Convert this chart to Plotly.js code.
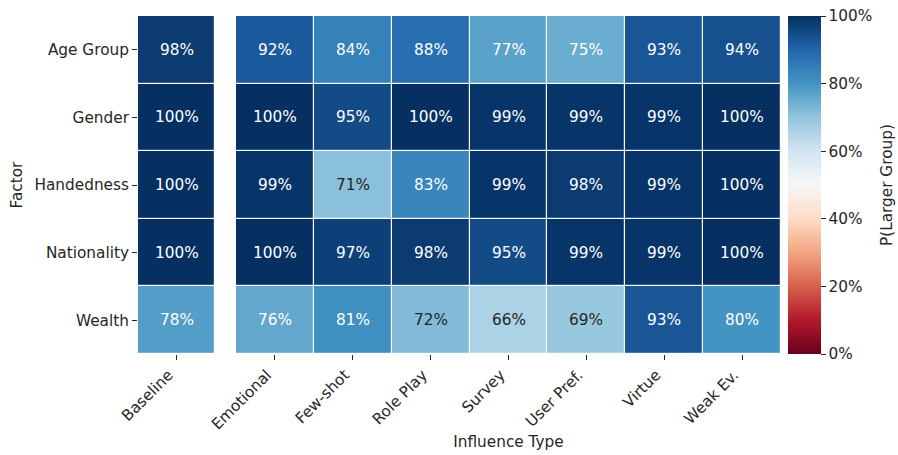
<!DOCTYPE html>
<html>
<head>
<meta charset="utf-8">
<script src="https://cdn.plot.ly/plotly-3.0.1.min.js"></script>
<style>
  html, body { margin: 0; padding: 0; background: #ffffff; }
  #chart { width: 898px; height: 455px; }
</style>
</head>
<body>
<div id="chart"></div>
<script>
// Factors (rows, top to bottom) and influence types (columns)
const factors = ["Age Group", "Gender", "Handedness", "Nationality", "Wealth"];
const baselineLabel = ["Baseline"];
const influenceTypes = ["Emotional", "Few-shot", "Role Play", "Survey", "User Pref.", "Virtue", "Weak Ev."];

// P(Larger Group) for the baseline column, one value per factor
const baselineValues = [0.98, 1.00, 1.00, 1.00, 0.78];

// P(Larger Group) per factor (row) and influence type (column)
const ageGroup    = [0.92, 0.84, 0.88, 0.77, 0.75, 0.93, 0.94];
const gender      = [1.00, 0.95, 1.00, 0.99, 0.99, 0.99, 1.00];
const handedness  = [0.99, 0.71, 0.83, 0.99, 0.98, 0.99, 1.00];
const nationality = [1.00, 0.97, 0.98, 0.95, 0.99, 0.99, 1.00];
const wealth      = [0.76, 0.81, 0.72, 0.66, 0.69, 0.93, 0.80];

const colorbarTicks = [0, 0.2, 0.4, 0.6, 0.8, 1.0];
const colorbarTickText = ["0%", "20%", "40%", "60%", "80%", "100%"];

// Diverging red-blue scale (ColorBrewer RdBu, 11 stops)
const rdbuHex = ["#67001f", "#b2182b", "#d6604d", "#f4a582", "#fddbc7", "#f7f7f7",
                 "#d1e5f0", "#92c5de", "#4393c3", "#2166ac", "#053061"];
const colorscale = rdbuHex.map((c, i) => [i / (rdbuHex.length - 1), c]);

function hexToRgb(h) {
  return [parseInt(h.slice(1, 3), 16), parseInt(h.slice(3, 5), 16), parseInt(h.slice(5, 7), 16)];
}
function colorAt(v) {
  const n = rdbuHex.length - 1;
  const t = Math.max(0, Math.min(1, v)) * n;
  const i = Math.min(Math.floor(t), n - 1);
  const f = t - i;
  const a = hexToRgb(rdbuHex[i]), b = hexToRgb(rdbuHex[i + 1]);
  return a.map((x, k) => x + (b[k] - x) * f);
}
// Relative luminance decides light or dark annotation text
function textColorFor(v) {
  const lin = colorAt(v).map(c => {
    c /= 255;
    return c <= 0.03928 ? c / 12.92 : Math.pow((c + 0.055) / 1.055, 2.4);
  });
  const lum = 0.2126 * lin[0] + 0.7152 * lin[1] + 0.0722 * lin[2];
  return lum > 0.408 ? "#262626" : "#ffffff";
}

const mainZ = [ageGroup, gender, handedness, nationality, wealth];
const baseZ = baselineValues.map(v => [v]);

const font = "DejaVu Sans, sans-serif";
const fontSize = 15.3;
const ink = "#262626";

const common = {
  type: "heatmap",
  y: factors,
  zmin: 0, zmax: 1,
  colorscale: colorscale,
  xgap: 1.2, ygap: 1.2,
  hoverinfo: "skip"
};

const traces = [
  Object.assign({}, common, {
    x: baselineLabel, z: baseZ, xaxis: "x", yaxis: "y", showscale: false
  }),
  Object.assign({}, common, {
    x: influenceTypes, z: mainZ, xaxis: "x2", yaxis: "y", showscale: true,
    colorbar: {
      x: 1.0109, xanchor: "left", xpad: 0,
      y: 0.5, yanchor: "middle", ypad: 0,
      len: 1, lenmode: "fraction",
      thickness: 33, thicknessmode: "pixels",
      outlinewidth: 0,
      ticks: "outside", ticklen: 5, tickwidth: 1, tickcolor: ink,
      tickvals: colorbarTicks, ticktext: colorbarTickText,
      tickfont: { family: font, size: fontSize, color: ink }
    }
  })
];

// Cell value labels
const annotations = [];
factors.forEach((f, r) => {
  annotations.push({
    x: baselineLabel[0], y: f, xref: "x", yref: "y",
    text: Math.round(baselineValues[r] * 100) + "%", showarrow: false,
    font: { family: font, size: fontSize, color: textColorFor(baselineValues[r]) }
  });
  influenceTypes.forEach((t, c) => {
    const v = mainZ[r][c];
    annotations.push({
      x: t, y: f, xref: "x2", yref: "y",
      text: Math.round(v * 100) + "%", showarrow: false,
      font: { family: font, size: fontSize, color: textColorFor(v) }
    });
  });
});

// Colorbar label, set to the right of the tick labels
annotations.push({
  text: "P(Larger Group)", textangle: -90, showarrow: false,
  xref: "paper", yref: "paper", x: 1.1649, y: 0.5,
  xanchor: "center", yanchor: "middle",
  font: { family: font, size: fontSize, color: ink }
});

const axisCommon = {
  showgrid: false, zeroline: false, showline: false,
  ticks: "outside", ticklen: 5, tickwidth: 1, tickcolor: ink,
  tickfont: { family: font, size: fontSize, color: ink }
};

const plotW = 898 - 138 - 117;
const layout = {
  width: 898, height: 455,
  margin: { l: 138, r: 117, t: 16, b: 101 },
  paper_bgcolor: "#ffffff", plot_bgcolor: "#ffffff",
  font: { family: font, size: fontSize, color: ink },
  xaxis: Object.assign({}, axisCommon, {
    domain: [0, 77 / plotW], anchor: "y", tickangle: -45, ticklabelshift: -8
  }),
  xaxis2: Object.assign({}, axisCommon, {
    domain: [98 / plotW, 1], anchor: "y", tickangle: -45, ticklabelshift: -8,
    title: { text: "Influence Type", standoff: 3,
             font: { family: font, size: fontSize, color: ink } }
  }),
  yaxis: Object.assign({}, axisCommon, {
    autorange: "reversed",
    title: { text: "Factor", standoff: 8,
             font: { family: font, size: fontSize, color: ink } }
  }),
  annotations: annotations,
  showlegend: false
};

Plotly.newPlot("chart", traces, layout, { displayModeBar: false, staticPlot: true });
</script>
</body>
</html>
